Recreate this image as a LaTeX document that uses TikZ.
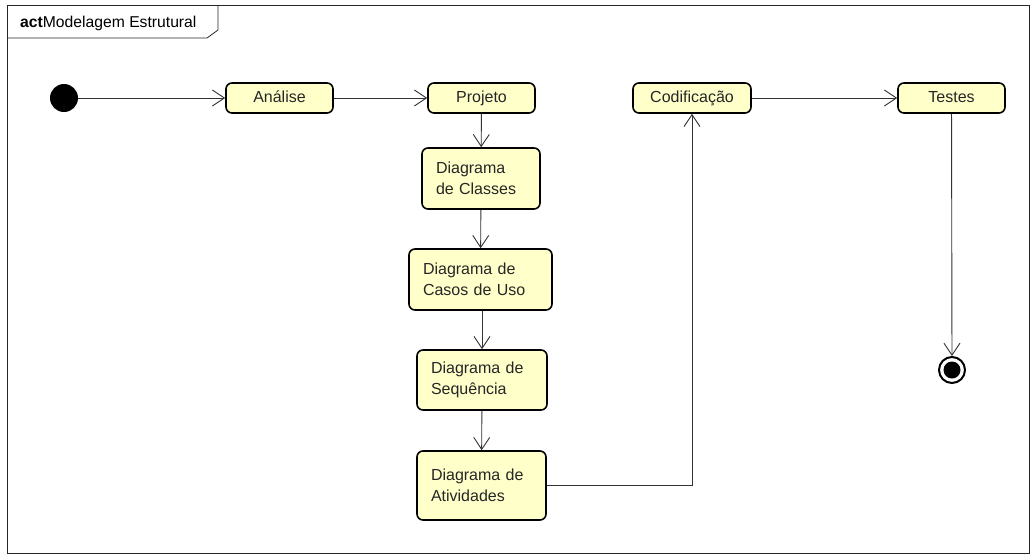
\documentclass[tikz,border=0pt]{standalone}
\usepackage{fontspec}
\setmainfont{Liberation Sans}
\usetikzlibrary{arrows.meta,positioning}
\definecolor{actfill}{RGB}{255,255,202}
\tikzset{
  act/.style={draw=black, line width=1.6pt, fill=actfill, rounded corners=6pt, font=\fontsize{16}{20.5}\selectfont, inner sep=0pt, text=black!85},
  single/.style={act, minimum height=30pt, text height=11.5pt, text depth=3.5pt},
  multi/.style={act, inner xsep=14pt, align=left},
  flow/.style={draw=black!80, line width=0.9pt, -{Straight Barb[length=12pt,width=16pt,line width=0.9pt]}},
  frameline/.style={draw=black!85, line width=0.8pt}
}
\begin{document}
\begin{tikzpicture}[x=1pt,y=-1pt]
\useasboundingbox (0,0) rectangle (1035,557);
% frame
\draw[frameline] (7,5) rectangle (1029,553);
\draw[frameline] (7,38) -- (207,38) -- (218,30) -- (218,5);
\node[anchor=base west, inner sep=0pt, font=\fontsize{15.7}{18}\selectfont] (title) at (20,27) {\textbf{act}Modelagem Estrutural};
% nodes
\node[circle, fill=black, minimum size=28pt, inner sep=0pt] (start) at (64,98) {};
\node[single, minimum width=107pt] (analise) at (279.5,98) {Análise};
\node[single, minimum width=107pt] (projeto) at (481.5,98) {Projeto};
\node[single, minimum width=118pt] (codif) at (692,98) {Codificação};
\node[single, minimum width=107pt] (testes) at (951.5,98) {Testes};
\node[multi, text width=90pt, minimum height=61pt] (classes) at (481,178.5) {Diagrama\\de Classes};
\node[multi, text width=115pt, minimum height=61pt] (casos) at (480.5,279.5) {Diagrama de\\Casos de Uso};
\node[multi, text width=102pt, minimum height=60pt] (seq) at (482,380) {Diagrama de\\Sequência};
\node[multi, text width=101pt, minimum height=69pt] (ativ) at (481.5,485.5) {Diagrama de\\Atividades};
\node[circle, draw=black, line width=2pt, minimum size=26pt, inner sep=0pt] (final) at (952,370) {};
\node[circle, fill=black, minimum size=17pt, inner sep=0pt] (finalin) at (952,370) {};
% connectors
\draw[flow] (start) -- (analise);
\draw[flow] (analise) -- (projeto);
\draw[flow] (projeto) -- (classes);
\draw[flow] (classes) -- (casos);
\draw[flow] (casos.south -| seq.north) -- (seq);
\draw[flow] (seq) -- (ativ);
\draw[flow] (ativ.east) -- (ativ.east -| codif.south) -- (codif.south);
\draw[flow] (codif) -- (testes);
\draw[flow] (testes) -- (final);
\end{tikzpicture}
\end{document}
